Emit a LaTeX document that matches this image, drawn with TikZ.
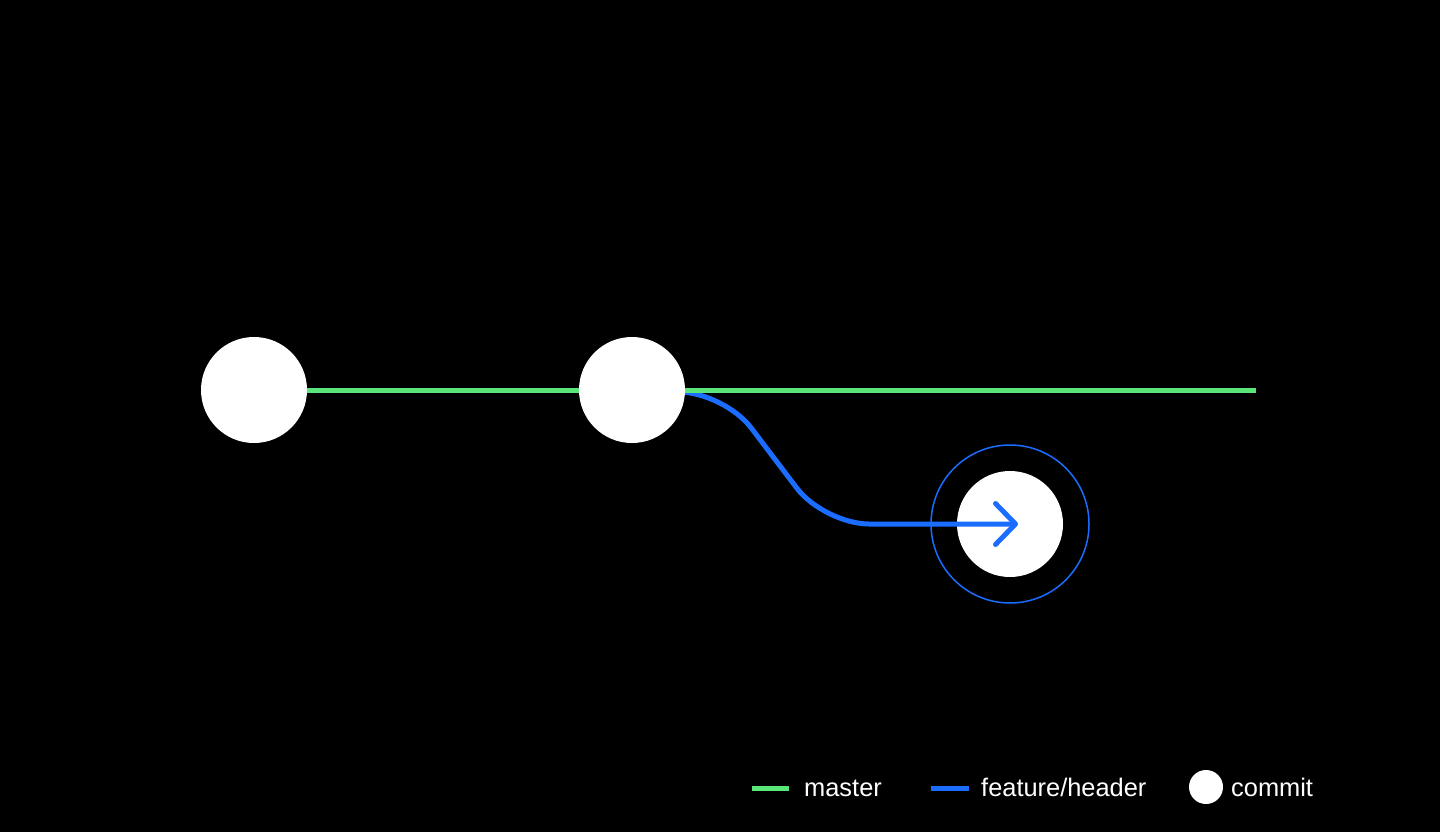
\documentclass[tikz,border=0pt]{standalone}
\usepackage{fontspec}
\setmainfont{Liberation Sans}
\usetikzlibrary{arrows.meta,calc}
\definecolor{mastergreen}{RGB}{90,230,120}
\definecolor{featblue}{RGB}{26,109,255}
\begin{document}
\begin{tikzpicture}[x=1pt,y=-1pt,
  commit/.style={circle, fill=white, minimum size=106pt, inner sep=0pt},
  ring/.style={circle, draw=featblue, line width=1.5pt, minimum size=158pt, inner sep=0pt},
  masterline/.style={draw=mastergreen, line width=5pt},
  featline/.style={draw=featblue, line width=5pt},
  legendtext/.style={anchor=base west, text=white, font=\fontsize{25.4}{29}\selectfont, inner sep=0pt}]
\fill[black] (0,0) rectangle (1440,832);
\useasboundingbox (0,0) rectangle (1440,832);
% third commit with ring
\node[ring] (r3) at (1010,524) {};
\node[commit] (c3) at (1010,524) {};
% helper coordinates
\coordinate (k1) at (724,392);
\coordinate (k2) at (824,524);
\coordinate (tip) at ($(c3.center)+(8,0)$);
\coordinate (mend) at (1256,390);
\coordinate (c2pos) at (632,390);
% feature branch
\draw[featline, rounded corners=45pt, -{Straight Barb[length=20pt,width=41pt,round]}]
  ($(c2pos)+(0,2)$) -- (k1) -- (k2) -- (tip);
% master branch
\draw[masterline] (254,390) -- (mend);
% commits on master
\node[commit] (c1) at (254,390) {};
\node[commit] (c2) at (c2pos) {};
% legend
\coordinate (lg1a) at (752,788); \coordinate (lg1b) at (789,788);
\draw[masterline] (lg1a) -- (lg1b);
\node[legendtext] (lt1) at (804,796) {master};
\coordinate (lg2a) at (931,788); \coordinate (lg2b) at (969,788);
\draw[featline] (lg2a) -- (lg2b);
\node[legendtext] (lt2) at (981,796) {feature/header};
\node[circle, fill=white, minimum size=34pt, inner sep=0pt] (lc) at (1206,787) {};
\node[legendtext] (lt3) at (1231,796) {commit};
\end{tikzpicture}
\end{document}
